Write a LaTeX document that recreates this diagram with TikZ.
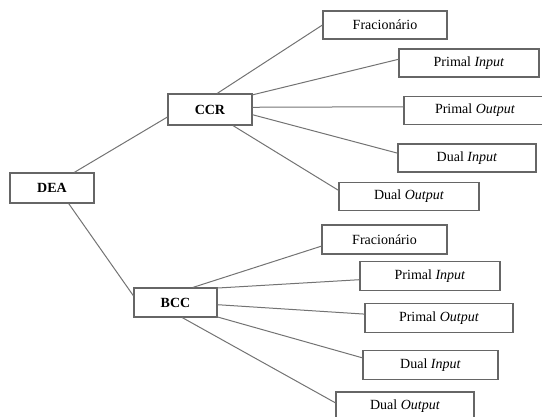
\documentclass[tikz,border=0pt]{standalone}
\usepackage{fontspec}
\setmainfont{Liberation Serif}
\usepackage{tikz}
\usetikzlibrary{calc}

\tikzset{
	box/.style={draw=black!60, line width=1.1pt, fill=white, inner sep=0pt, minimum height=29pt, font=\fontsize{14}{16}\selectfont},
	link/.style={draw=black!55, line width=1pt}
}

\begin{document}
\begin{tikzpicture}[x=1pt, y=-1pt]
\useasboundingbox (0,0) rectangle (542,416);
\draw (52,188) node[box, minimum width=84pt, minimum height=30pt] (dea) {\textbf{DEA}};
\draw (210,109.5) node[box, minimum width=84pt, minimum height=31pt] (ccr) {\textbf{CCR}};
\draw (175.5,302.5) node[box, minimum width=83pt] (bcc) {\textbf{BCC}};
\draw[link] (dea.35) -- (ccr.190);
\draw[link] (dea.-43) -- (bcc.171);
% ramos do CCR
\foreach \n/\x/\y/\w/\t/\a/\b in {cf/385/25/124/{Fracion\'ario}/66/180,
	cpi/469/63/140/{Primal \textit{Input}}/19/177,
	cpo/475/110.5/142/{Primal \textit{Output}}/3/177,
	cdi/467/158/138/{Dual \textit{Input}}/-7.5/176,
	cdo/409/196.5/140/{Dual \textit{Output}}/-35/175.5} {
	\draw (\x,\y) node[box, minimum width=\w pt, minimum height=28pt] (\n) {\t};
	\draw[link] (ccr.\a) -- (\n.\b);
}
% ramos do BCC
\foreach \n/\x/\y/\w/\t/\a/\b in {bf/384.5/239.5/125/{Fracion\'ario}/41/186,
	bpi/430/276/140/{Primal \textit{Input}}/19.3/183,
	bpo/439/318/148/{Primal \textit{Output}}/-3.4/177.7,
	bdi/430.5/365/135/{Dual \textit{Input}}/-19.3/174,
	bdo/405/406.5/138/{Dual \textit{Output}}/-66/177} {
	\draw (\x,\y) node[box, minimum width=\w pt] (\n) {\t};
	\draw[link] (bcc.\a) -- (\n.\b);
}
\end{tikzpicture}
\end{document}
